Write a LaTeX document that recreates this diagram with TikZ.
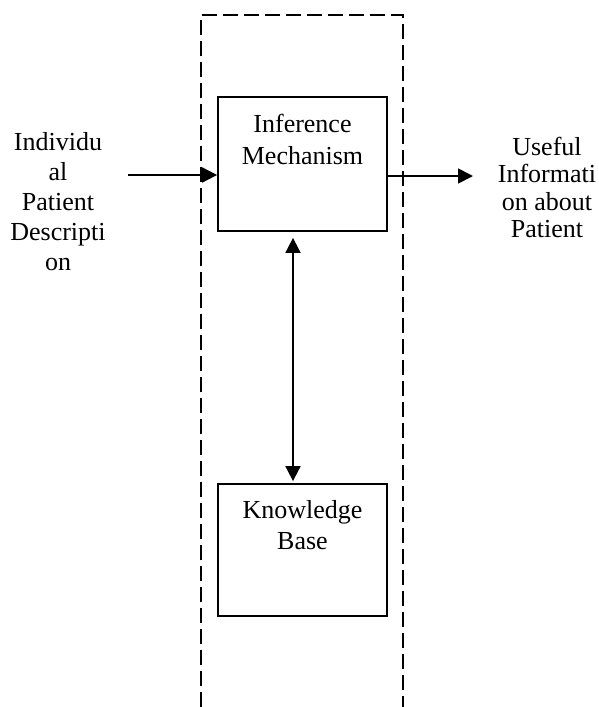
\documentclass[tikz,border=0pt]{standalone}
\usepackage{fontspec}
\setmainfont{Liberation Serif}
\usetikzlibrary{arrows.meta}
\begin{document}
\begin{tikzpicture}[x=1pt,y=-1pt,
  box/.style={draw, line width=1.8pt, minimum width=169pt, inner sep=0pt},
  txt/.style={align=center, inner sep=0pt, anchor=north, font=\fontsize{26}{31.5}\selectfont},
  arr/.style={line width=1.8pt, -{Triangle[length=15pt,width=15pt]}},
  dbl/.style={line width=1.8pt, {Triangle[length=15pt,width=15pt]}-{Triangle[length=15pt,width=15pt]}},
  frame/.style={line width=1.8pt, dash pattern=on 15pt off 6pt}]
\useasboundingbox (0,0) rectangle (598,707);
\draw[frame] (201,707) -- (201,15) -- (403,15) -- (403,707);
\node[box, minimum height=134pt] (inf) at (302.5,164) {};
\node[box, minimum height=132pt] (kb) at (302.5,550) {};
\node[txt] (inft) at (302.5,114) {Inference\\Mechanism};
\node[txt] (kbt) at (302.5,500) {Knowledge\\Base};
\node[txt, font=\fontsize{26}{30}\selectfont] (left) at (58,132) {Individu\\al\\Patient\\Descripti\\on};
\node[txt, font=\fontsize{26}{27.3}\selectfont] (right) at (547,137) {Useful\\Informati\\on about\\Patient};
\coordinate (lin) at (128,175);
\coordinate (rout) at (473,176);
\coordinate (vx) at (293,0);
\draw[arr] (lin) -- (lin -| inf.west);
\draw[arr] (rout -| inf.east) -- (rout);
\draw[dbl, shorten <=6pt, shorten >=2pt] (inf.south -| vx) -- (kb.north -| vx);
\end{tikzpicture}
\end{document}
